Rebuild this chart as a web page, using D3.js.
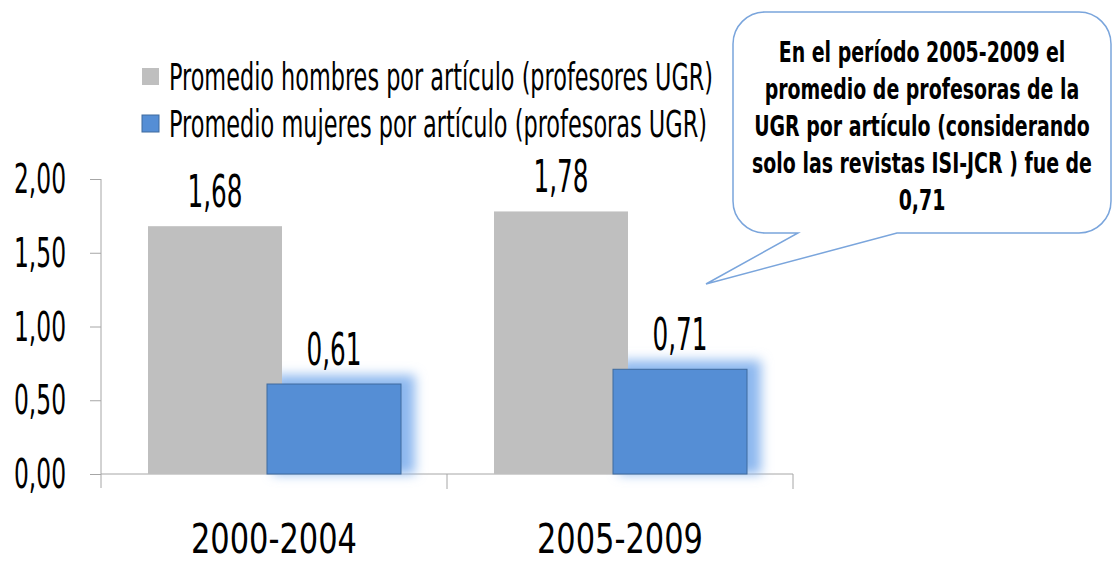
<!DOCTYPE html>
<html lang="es">
<head>
<meta charset="UTF-8">
<title>Promedio por artículo</title>
<script src="https://cdn.jsdelivr.net/npm/d3@7"></script>
<style>
  body { margin: 0; background: #fff; }
  text { font-family: "Liberation Sans Narrow", "DejaVu Sans Condensed", "DejaVu Sans", sans-serif; fill: #000; }
  .bold { font-weight: bold; }
</style>
</head>
<body>
<script>
// ---- data ----
const periods = ["2000-2004", "2005-2009"];
const series = ["hombres", "mujeres"];
const legendLabels = [
  "Promedio hombres por artículo (profesores UGR)",
  "Promedio mujeres por artículo (profesoras UGR)"
];
const hombres = [1.68, 1.78];
const mujeres = [0.61, 0.71];
const yTicks = [0, 0.5, 1, 1.5, 2];
const noteLines = [
  "En el período 2005-2009 el",
  "promedio de profesoras de la",
  "UGR por artículo (considerando",
  "solo las revistas ISI-JCR ) fue de",
  "0,71"
];

const W = 1113, H = 563;
const colors = { hombres: "#bfbfbf", mujeres: "#558ed5" };
const fmt = v => d3.format(".2f")(v).replace(".", ",");

const svg = d3.select("body").append("svg").attr("width", W).attr("height", H);

// glow for the blue bars
const defs = svg.append("defs");
const glow = defs.append("filter").attr("id", "glow")
  .attr("x", "-30%").attr("y", "-30%").attr("width", "160%").attr("height", "160%");
glow.append("feGaussianBlur").attr("stdDeviation", 6);

// ---- scales ----
const x0 = d3.scaleBand().domain(periods).range([101, 793]);
const x1 = d3.scalePoint().domain(series).range([47, 166]);
const barW = 134;
const y = d3.scaleLinear().domain([0, 2]).range([474, 179]);

const rows = periods.map((p, i) => ({ period: p, hombres: hombres[i], mujeres: mujeres[i] }));

// ---- axes ----
const yAxis = svg.append("g").attr("transform", "translate(101,0)")
  .call(d3.axisLeft(y).tickValues(yTicks).tickSize(11).tickFormat(""));
yAxis.select(".domain").attr("stroke", "#a6a6a6").attr("d", `M0,${y(2)}V${y(0) + 14}`);
yAxis.selectAll(".tick line").attr("stroke", "#a6a6a6");

svg.selectAll(".ylab").data(yTicks).join("text")
  .attr("class", "ylab")
  .attr("x", 66).attr("y", d => y(d) + 14)
  .attr("text-anchor", "end")
  .attr("font-size", 40)
  .attr("textLength", 52).attr("lengthAdjust", "spacingAndGlyphs")
  .text(fmt);

const xAxis = svg.append("g").attr("transform", `translate(0,${y(0)})`)
  .call(d3.axisBottom(x0).tickSize(0).tickFormat(""));
xAxis.select(".domain").attr("stroke", "#a6a6a6").attr("d", "M101,0H793");
xAxis.selectAll(".tick").remove();
svg.selectAll(".xtick").data([x0.range()[0] + x0.step(), x0.range()[1]]).join("line")
  .attr("class", "xtick")
  .attr("x1", d => d).attr("x2", d => d)
  .attr("y1", y(0)).attr("y2", y(0) + 15)
  .attr("stroke", "#a6a6a6");

svg.selectAll(".xlab").data(periods).join("text")
  .attr("class", "xlab")
  .attr("x", d => x0(d) + x0.bandwidth() / 2)
  .attr("y", 553)
  .attr("text-anchor", "middle")
  .attr("font-size", 41)
  .attr("textLength", 166).attr("lengthAdjust", "spacingAndGlyphs")
  .text(d => d);

// ---- bars ----
svg.selectAll(".glow").data(rows).join("rect")
  .attr("class", "glow")
  .attr("x", d => x0(d.period) + x1("mujeres") + 6)
  .attr("y", d => y(d.mujeres) - 9)
  .attr("width", barW + 8)
  .attr("height", d => y(0) - y(d.mujeres) + 9)
  .attr("fill", "#8db8ef")
  .attr("filter", "url(#glow)");

svg.selectAll(".bar-h").data(rows).join("rect")
  .attr("class", "bar-h")
  .attr("x", d => x0(d.period) + x1("hombres"))
  .attr("y", d => y(d.hombres))
  .attr("width", barW)
  .attr("height", d => y(0) - y(d.hombres))
  .attr("fill", colors.hombres);

svg.selectAll(".bar-m").data(rows).join("rect")
  .attr("class", "bar-m")
  .attr("x", d => x0(d.period) + x1("mujeres"))
  .attr("y", d => y(d.mujeres))
  .attr("width", barW)
  .attr("height", d => y(0) - y(d.mujeres))
  .attr("fill", colors.mujeres)
  .attr("stroke", "#3f6a9e").attr("stroke-width", 1);

// value labels
series.forEach(s => {
  svg.selectAll(".val-" + s).data(rows).join("text")
    .attr("class", "val-" + s)
    .attr("x", d => x0(d.period) + x1(s) + barW / 2)
    .attr("y", d => y(d[s]) - 19)
    .attr("text-anchor", "middle")
    .attr("font-size", 44)
    .attr("textLength", 55).attr("lengthAdjust", "spacingAndGlyphs")
    .text(d => fmt(d[s]));
});

// ---- legend ----
const legend = svg.selectAll(".leg").data(series).join("g")
  .attr("class", "leg")
  .attr("transform", (d, i) => `translate(142,${68 + i * 47})`);
legend.append("rect")
  .attr("width", 17).attr("height", 17)
  .attr("fill", d => colors[d])
  .attr("stroke", d => d === "mujeres" ? "#3f6a9e" : "none");
legend.append("text")
  .attr("x", 27).attr("y", 22)
  .attr("font-size", 37)
  .attr("textLength", (d, i) => i === 0 ? 544 : 538)
  .attr("lengthAdjust", "spacingAndGlyphs")
  .text((d, i) => legendLabels[i]);

// ---- callout ----
const bx0 = 733, bx1 = 1111, by0 = 12, by1 = 233, r = 32;
const callout = d3.path();
callout.moveTo(bx0 + r, by0);
callout.lineTo(bx1 - r, by0);
callout.arcTo(bx1, by0, bx1, by0 + r, r);
callout.lineTo(bx1, by1 - r);
callout.arcTo(bx1, by1, bx1 - r, by1, r);
callout.lineTo(897, by1);
callout.lineTo(706, 284);
callout.lineTo(798, by1);
callout.lineTo(bx0 + r, by1);
callout.arcTo(bx0, by1, bx0, by1 - r, r);
callout.lineTo(bx0, by0 + r);
callout.arcTo(bx0, by0, bx0 + r, by0, r);
callout.closePath();
svg.append("path").attr("d", callout.toString())
  .attr("fill", "#fff").attr("stroke", "#7aa5dc").attr("stroke-width", 1.5);

// note text: bold, squeezed horizontally so the widest line fits the box
const noteG = svg.selectAll(".note").data(noteLines).join("g")
  .attr("class", "note");
const notes = noteG.append("text")
  .attr("class", "bold")
  .attr("text-anchor", "middle")
  .attr("font-size", 28)
  .text(d => d);
const widest = d3.max(notes.nodes(), n => n.getComputedTextLength());
const sx = Math.min(1, 340 / widest);
noteG.attr("transform", (d, i) => `translate(922,${62 + i * 37}) scale(${sx},1)`);
</script>
</body>
</html>
